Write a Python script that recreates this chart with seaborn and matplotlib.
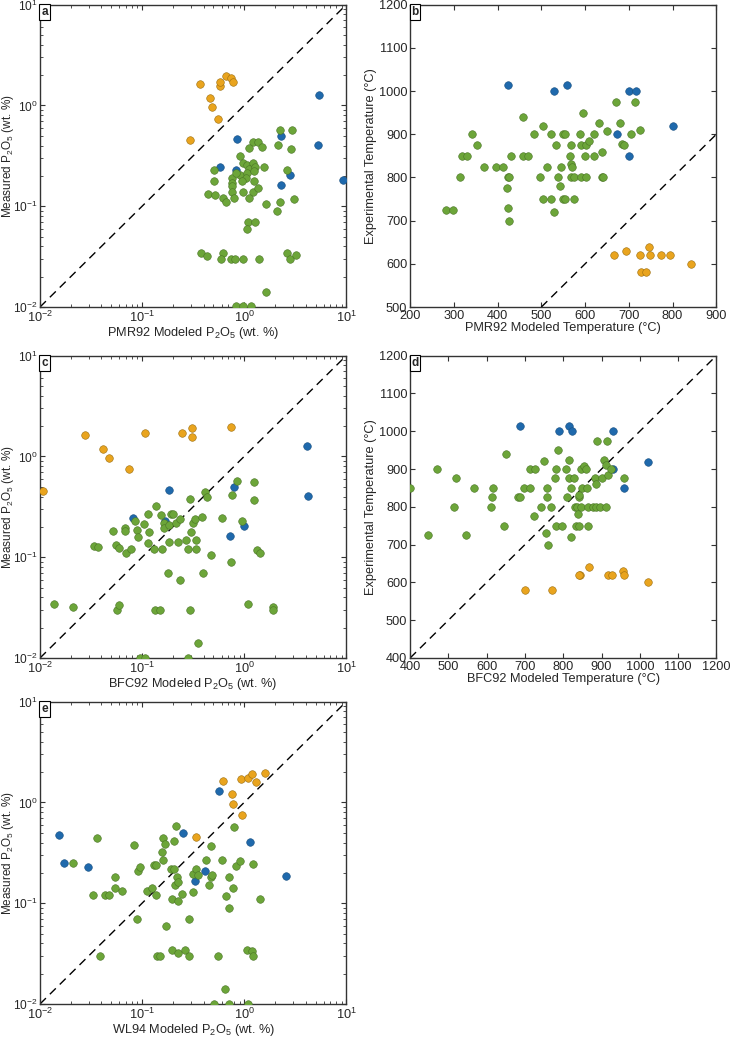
import numpy as np
import pandas as pd
import matplotlib
matplotlib.use("Agg")
import matplotlib.pyplot as plt
import seaborn as sns

sns.set_style("ticks")
plt.rcParams['font.family'] = ['Liberation Sans', 'DejaVu Sans']
plt.rcParams['mathtext.fontset'] = 'custom'
plt.rcParams['mathtext.rm'] = 'Liberation Sans'
plt.rcParams['mathtext.it'] = 'Liberation Sans:italic'
plt.rcParams['mathtext.bf'] = 'Liberation Sans:bold'
plt.rcParams['axes.unicode_minus'] = False

# ---- panel a: PMR92 modeled vs measured P2O5 ----
a_orange = [(0.296, 0.45), (0.37, 1.62), (0.466, 1.19), (0.48, 0.955), (0.55, 0.74),
            (0.58, 1.56), (0.585, 1.69), (0.67, 1.95), (0.74, 1.88), (0.78, 1.69)]
a_blue = [(5.35, 1.28), (0.857, 0.465), (2.32, 0.50), (5.3, 0.405), (0.585, 0.247),
          (0.83, 0.227), (2.82, 0.204), (2.30, 0.164), (9.2, 0.184)]
a_green = [(2.26, 0.576), (2.95, 0.569), (1.23, 0.437), (1.36, 0.437), (1.12, 0.382),
           (1.51, 0.388), (2.13, 0.405), (2.88, 0.371), (0.90, 0.318), (0.97, 0.266),
           (1.06, 0.258), (1.21, 0.266), (1.12, 0.236), (1.28, 0.243), (1.55, 0.247),
           (2.6, 0.231), (0.51, 0.231), (0.755, 0.191), (0.91, 0.206), (0.84, 0.214),
           (1.07, 0.214), (1.26, 0.222), (1.05, 0.191), (0.955, 0.177), (1.26, 0.177),
           (0.505, 0.18), (0.755, 0.171), (0.755, 0.158), (0.755, 0.139), (0.97, 0.139),
           (1.22, 0.139), (1.36, 0.15), (0.44, 0.131), (0.52, 0.129), (0.617, 0.12),
           (0.67, 0.111), (0.80, 0.12), (1.12, 0.12), (1.64, 0.105), (2.23, 0.11),
           (3.06, 0.118), (2.10, 0.09), (1.08, 0.07), (1.28, 0.07), (1.07, 0.06),
           (0.38, 0.0344), (0.435, 0.0321), (0.62, 0.034), (0.593, 0.030), (0.743, 0.030),
           (0.82, 0.030), (0.98, 0.030), (1.41, 0.030), (2.6, 0.034), (2.84, 0.030),
           (3.23, 0.0328), (1.64, 0.014), (0.84, 0.0102), (0.98, 0.0102), (1.17, 0.0102)]

# ---- panel b: PMR92 modeled vs experimental temperature ----
b_orange = [(665, 620), (693, 630), (726, 620), (746, 640), (749, 620),
            (773, 620), (793, 620), (727, 580), (739, 580), (843, 600)]
b_blue = [(424, 1015), (528, 1000), (558, 1015), (674, 900), (701, 1000),
          (716, 1000), (802, 918), (701, 850)]
b_green = [(281, 725), (298, 725), (313, 800), (318, 850), (331, 850), (342, 900),
           (352, 875), (369, 825), (396, 825), (412, 825), (423, 800), (425, 800),
           (422, 775), (424, 730), (425, 700), (431, 850), (459, 940), (459, 850),
           (469, 850), (484, 900), (503, 920), (497, 800), (504, 750), (513, 825),
           (521, 750), (522, 900), (529, 720), (534, 875), (537, 800), (542, 780),
           (545, 825), (549, 750), (550, 900), (555, 900), (555, 750), (566, 850),
           (568, 875), (568, 830), (570, 825), (568, 800), (575, 800), (575, 750),
           (588, 900), (591, 875), (590, 800), (595, 950), (600, 850), (601, 875),
           (601, 800), (610, 885), (620, 850), (621, 900), (631, 925), (638, 860),
           (638, 800), (642, 800), (649, 908), (670, 975), (680, 925), (684, 878),
           (689, 875), (705, 900), (714, 975), (726, 909)]

# ---- panel c: BFC92 modeled vs measured P2O5 ----
c_orange = [(0.0106, 0.453), (0.0278, 1.62), (0.0412, 1.19), (0.0472, 0.964),
            (0.0738, 0.745), (0.108, 1.71), (0.248, 1.72), (0.305, 1.90),
            (0.309, 1.57), (0.74, 1.95)]
c_blue = [(4.1, 1.28), (4.25, 0.405), (0.185, 0.467), (0.80, 0.495), (0.0815, 0.245),
          (0.166, 0.228), (0.72, 0.164), (1.0, 0.205)]
c_green = [(0.0136, 0.0342), (0.021, 0.0318), (0.0341, 0.129), (0.037, 0.127),
           (0.0517, 0.180), (0.0558, 0.132), (0.0589, 0.124), (0.0571, 0.0298),
           (0.059, 0.0335), (0.0675, 0.194), (0.0675, 0.18), (0.069, 0.110),
           (0.0785, 0.121), (0.0847, 0.230), (0.0894, 0.188), (0.0913, 0.16),
           (0.104, 0.213), (0.115, 0.271), (0.117, 0.179), (0.115, 0.139),
           (0.0963, 0.01), (0.106, 0.01), (0.136, 0.322), (0.153, 0.263),
           (0.132, 0.121), (0.155, 0.121), (0.135, 0.0298), (0.151, 0.0298),
           (0.163, 0.221), (0.165, 0.194), (0.183, 0.141), (0.178, 0.0697),
           (0.192, 0.271), (0.202, 0.268), (0.185, 0.211), (0.213, 0.218),
           (0.223, 0.141), (0.235, 0.238), (0.235, 0.0599), (0.27, 0.149),
           (0.284, 0.121), (0.295, 0.377), (0.30, 0.177), (0.316, 0.218),
           (0.295, 0.0298), (0.283, 0.01), (0.331, 0.238), (0.339, 0.149),
           (0.341, 0.121), (0.352, 0.0141), (0.388, 0.251), (0.391, 0.0697),
           (0.412, 0.44), (0.435, 0.392), (0.476, 0.104), (0.611, 0.247),
           (0.762, 0.417), (0.75, 0.0906), (0.96, 0.23), (1.09, 0.0342),
           (0.85, 0.576), (1.26, 0.563), (1.24, 0.366), (1.34, 0.118),
           (1.43, 0.109), (1.93, 0.0322), (1.93, 0.0298)]

# ---- panel d: BFC92 modeled vs experimental temperature ----
d_orange = [(700, 580), (771, 580), (844, 620), (840, 620), (868, 640),
            (918, 620), (927, 620), (956, 630), (959, 620), (1022, 600)]
d_blue = [(686, 1015), (789, 1000), (815, 1015), (822, 1000), (929, 1000),
          (1022, 918), (929, 900), (959, 850)]
d_green = [(400, 850), (446, 725), (470, 900), (514, 800), (521, 875), (547, 725),
           (567, 850), (611, 800), (614, 825), (617, 850), (644, 750), (651, 940),
           (681, 825), (687, 825), (698, 850), (712, 850), (714, 900), (725, 900),
           (723, 775), (742, 800), (751, 920), (754, 730), (757, 850), (758, 825),
           (759, 700), (769, 800), (778, 875), (781, 750), (781, 900), (787, 950),
           (796, 750), (806, 900), (810, 825), (816, 925), (814, 875), (820, 850),
           (821, 720), (828, 875), (830, 800), (834, 750), (837, 800), (840, 825),
           (839, 780), (841, 750), (840, 830), (846, 800), (847, 900), (849, 850),
           (853, 909), (859, 900), (862, 850), (864, 800), (864, 750), (878, 800),
           (883, 875), (885, 800), (885, 860), (888, 975), (897, 800), (901, 875),
           (906, 925), (913, 800), (913, 911), (915, 975), (918, 885), (925, 900),
           (959, 875)]

# ---- panel e: WL94 modeled vs measured P2O5 ----
e_orange = [(0.625, 1.65), (0.755, 1.20), (0.772, 0.966), (0.96, 0.747), (0.94, 1.71),
            (1.09, 1.73), (1.19, 1.90), (1.31, 1.59), (1.59, 1.98), (0.337, 0.454)]
e_blue = [(0.566, 1.30), (0.251, 0.501), (1.14, 0.406), (0.0155, 0.472), (0.0172, 0.249),
          (0.0296, 0.227), (0.33, 0.165), (0.416, 0.207), (2.58, 0.185)]
e_green = [(0.0211, 0.251), (0.0363, 0.441), (0.0334, 0.12), (0.0388, 0.030),
           (0.0435, 0.12), (0.0469, 0.12), (0.0545, 0.181), (0.054, 0.14),
           (0.0633, 0.131), (0.0836, 0.382), (0.0895, 0.0705), (0.0916, 0.209),
           (0.0958, 0.231), (0.111, 0.132), (0.126, 0.142), (0.130, 0.239),
           (0.137, 0.239), (0.136, 0.121), (0.14, 0.030), (0.151, 0.030),
           (0.155, 0.321), (0.159, 0.268), (0.159, 0.445), (0.169, 0.391),
           (0.17, 0.0597), (0.19, 0.22), (0.195, 0.110), (0.197, 0.0342),
           (0.207, 0.412), (0.207, 0.22), (0.21, 0.151), (0.216, 0.582),
           (0.218, 0.181), (0.223, 0.162), (0.226, 0.105), (0.226, 0.0322),
           (0.244, 0.123), (0.265, 0.0347), (0.29, 0.030), (0.29, 0.070),
           (0.317, 0.128), (0.317, 0.195), (0.334, 0.22), (0.352, 0.189),
           (0.423, 0.27), (0.455, 0.151), (0.476, 0.371), (0.473, 0.18),
           (0.488, 0.191), (0.51, 0.01), (0.558, 0.030), (0.611, 0.27),
           (0.654, 0.014), (0.669, 0.119), (0.71, 0.18), (0.716, 0.0904),
           (0.716, 0.01), (0.772, 0.142), (0.802, 0.574), (0.832, 0.232),
           (0.918, 0.262), (1.07, 0.0342), (1.08, 0.01), (1.19, 0.0334),
           (1.22, 0.247), (1.23, 0.030), (1.44, 0.111)]

palette = {"orange": "#E9A41E", "blue": "#1F69AC", "green": "#6CA539"}
edges = {"orange": "#9C6E10", "blue": "#184F80", "green": "#4A7426"}


def make_df(orange, blue, green):
    rows = []
    for name, pts in [("orange", orange), ("blue", blue), ("green", green)]:
        for x, y in pts:
            rows.append({"x": x, "y": y, "group": name})
    return pd.DataFrame(rows)


def draw_panel(ax, df, letter, xlabel, ylabel, log, lims, line):
    ax.plot(line, line, color="black", lw=1.0, ls=(0, (6, 4)), zorder=1)
    for g in ["orange", "blue", "green"]:
        sub = df[df["group"] == g]
        sns.scatterplot(data=sub, x="x", y="y", ax=ax, color=palette[g],
                        edgecolor=edges[g], linewidth=0.4, s=30, zorder=3,
                        legend=False)
    if log:
        ax.set_xscale("log")
        ax.set_yscale("log")
    ax.set_xlim(lims[0])
    ax.set_ylim(lims[1])
    if not log:
        ax.set_xticks(np.arange(lims[0][0], lims[0][1] + 1, 100))
        ax.set_yticks(np.arange(lims[1][0], lims[1][1] + 1, 100))
    ax.set_xlabel(xlabel, fontsize=9.2, labelpad=0)
    ax.tick_params(which="both", direction="in", top=True, right=True,
                   labelsize=9.2, color="#333333", pad=2)
    if log:
        # the log tick labels are wide: pin the label to the figure's left edge
        ax.set_ylabel(ylabel, fontsize=8.5)
        ax.yaxis.set_label_coords(-0.129, 0.5)
        ax.yaxis.label.set_verticalalignment("top")
        ax.tick_params(axis="y", which="both", pad=1.5, labelsize=8.6)
    else:
        ax.set_ylabel(ylabel, fontsize=9.2, labelpad=1)
    ax.tick_params(which="major", length=3.5, width=0.8)
    ax.tick_params(which="minor", length=2.2, width=0.6)
    for sp in ax.spines.values():
        sp.set_linewidth(1.0)
        sp.set_color("#333333")
    ax.text(0.004, 0.996, letter, transform=ax.transAxes, ha="left", va="top",
            fontsize=8.5, fontweight="bold", zorder=5,
            bbox=dict(boxstyle="square,pad=0.15", fc="white", ec="black", lw=0.8))


fig = plt.figure(figsize=(7.31, 10.39), dpi=100)
W = 0.419
H = 0.291
ax_a = fig.add_axes([0.0547, 0.7045, W, H])
ax_b = fig.add_axes([0.561, 0.7045, W, H])
ax_c = fig.add_axes([0.0547, 0.3667, W, H])
ax_d = fig.add_axes([0.561, 0.3667, W, H])
ax_e = fig.add_axes([0.0547, 0.0337, W, H])

p2o5 = r"P$_\mathregular{2}$O$_\mathregular{5}$"
meas = "Measured " + p2o5 + " (wt. %)"
exp_t = "Experimental Temperature (°C)"
log_lims = ((0.01, 10), (0.01, 10))

draw_panel(ax_a, make_df(a_orange, a_blue, a_green), "a",
           "PMR92 Modeled " + p2o5 + " (wt. %)", meas, True, log_lims, (0.01, 10))
draw_panel(ax_b, make_df(b_orange, b_blue, b_green), "b",
           "PMR92 Modeled Temperature (°C)", exp_t, False,
           ((200, 900), (500, 1200)), (500, 900))
draw_panel(ax_c, make_df(c_orange, c_blue, c_green), "c",
           "BFC92 Modeled " + p2o5 + " (wt. %)", meas, True, log_lims, (0.01, 10))
draw_panel(ax_d, make_df(d_orange, d_blue, d_green), "d",
           "BFC92 Modeled Temperature (°C)", exp_t, False,
           ((400, 1200), (400, 1200)), (400, 1200))
draw_panel(ax_e, make_df(e_orange, e_blue, e_green), "e",
           "WL94 Modeled " + p2o5 + " (wt. %)", meas, True, log_lims, (0.01, 10))

fig.savefig("out.png", dpi=100)
